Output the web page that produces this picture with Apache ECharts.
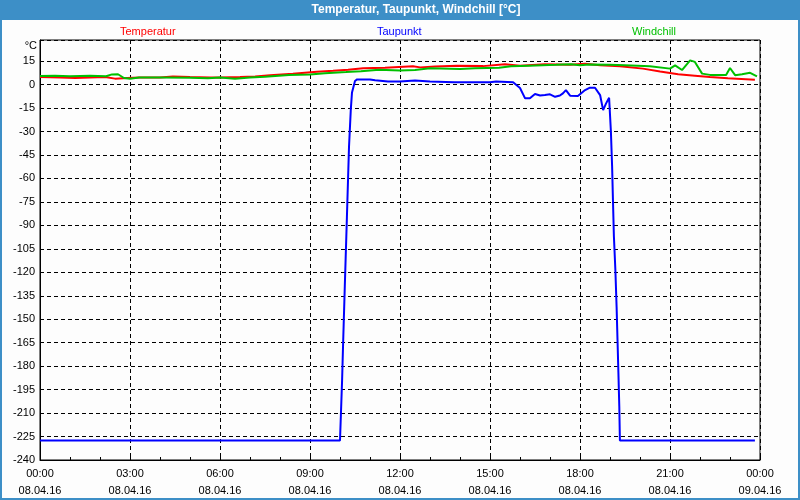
<!DOCTYPE html>
<html>
<head>
<meta charset="utf-8">
<script src="https://cdn.jsdelivr.net/npm/echarts@6/dist/echarts.min.js"></script>
<style>
html,body{margin:0;padding:0;background:#fff;}
#chart{width:800px;height:500px;}
</style>
</head>
<body>
<div id="chart"></div>
<script>
// ---- data ----
const titleText = 'Temperatur, Taupunkt, Windchill [°C]';
const unitLabel = '°C';
const seriesNames = ['Temperatur', 'Taupunkt', 'Windchill'];
const timeLabels = ['00:00','03:00','06:00','09:00','12:00','15:00','18:00','21:00','00:00'];
const dateLabels = ['08.04.16','08.04.16','08.04.16','08.04.16','08.04.16','08.04.16','08.04.16','08.04.16','09.04.16'];

// hours since 08.04.16 00:00
const tempHours  = [0, 0.67, 1.17, 1.67, 2.17, 2.5, 2.9, 3.33, 4, 4.43, 5, 5.67, 6, 6.67, 7.17, 7.67, 8.43, 9.23, 9.77, 10.27, 10.77, 11.5, 12.43, 12.67, 13.17, 13.9, 14.77, 15.5, 16, 16.83, 17.67, 18.17, 18.67, 19.33, 20.1, 20.67, 21.27, 21.83, 22.33, 22.93, 23.83];
const tempValues = [4.8, 4.6, 4.2, 4.6, 4.8, 3.8, 4.2, 4.6, 4.6, 5.2, 4.8, 4.6, 4.6, 4.8, 5.2, 6.0, 7.0, 8.2, 8.8, 9.5, 10.4, 10.8, 11.7, 11.0, 11.5, 12.1, 11.8, 13.0, 12.1, 13.0, 12.6, 13.3, 12.3, 11.7, 10.2, 8.4, 6.6, 5.7, 4.8, 4.0, 3.1];

const dewHours  = [0, 10.0, 10.03, 10.07, 10.1, 10.16, 10.23, 10.3, 10.36, 10.4, 10.5, 10.57, 11.0, 11.17, 11.6, 12.0, 12.5, 13.0, 13.8, 15.0, 15.2, 15.77, 16.0, 16.17, 16.33, 16.5, 16.67, 16.83, 17.0, 17.17, 17.33, 17.43, 17.53, 17.67, 17.93, 18.17, 18.33, 18.5, 18.67, 18.77, 18.87, 18.97, 19.0, 19.03, 19.07, 19.1, 19.13, 19.18, 19.22, 19.25, 19.28, 19.31, 19.33, 23.83];
const dewValues = [-227.5, -227.5, -227.3, -189, -168, -129, -85, -40, -16, -5, 2.3, 3.3, 3.3, 2.7, 2.0, 2.0, 2.6, 2.0, 1.5, 1.5, 2.0, 1.5, -2.2, -8.8, -8.8, -6.0, -7.0, -6.7, -6.2, -7.8, -7.0, -5.6, -3.5, -7.1, -7.3, -3.5, -2.0, -2.0, -6.7, -16.3, -12, -8.4, -9.5, -30, -52, -75, -97, -119, -142, -163, -184, -206, -227.5, -227.5];

const chillHours  = [0, 0.5, 1, 1.67, 2.2, 2.4, 2.6, 2.8, 3.0, 3.3, 4, 5, 5.6, 6, 6.5, 7, 7.5, 8.3, 9, 9.5, 10.2, 10.7, 11.3, 12, 12.5, 13, 14, 14.5, 15.3, 15.7, 16.3, 17.2, 17.7, 18, 18.3, 19, 19.5, 20.33, 21.0, 21.17, 21.4, 21.67, 21.83, 22.07, 22.33, 22.87, 23.0, 23.17, 23.4, 23.67, 23.9];
const chillValues = [5.5, 5.6, 5.3, 5.6, 5.3, 6.5, 6.6, 4.2, 3.7, 4.5, 4.6, 4.4, 4.0, 4.5, 3.8, 4.6, 5.0, 6.2, 6.4, 7.3, 8.0, 8.6, 9.5, 9.0, 9.3, 10.4, 10.0, 10.5, 10.8, 11.7, 12.1, 12.6, 13.0, 12.3, 12.8, 12.6, 12.3, 11.7, 10.2, 12.3, 9.3, 15.5, 14.5, 7.0, 6.2, 6.2, 10.6, 6.0, 6.6, 7.5, 5.3];

const colors = ['#ff0000', '#0000ff', '#00c000'];

function pairs(h, v) { return h.map((x, i) => [x, v[i]]); }

const chart = echarts.init(document.getElementById('chart'));
const FONT = 'Liberation Sans, Arial, sans-serif';

function legendAt(idx, left) {
  return {
    left: left, top: 25, padding: 0, icon: 'none', itemWidth: 0, itemGap: 0,
    selectedMode: false,
    data: [{ name: seriesNames[idx], textStyle: { color: colors[idx] } }],
    textStyle: { fontSize: 11, fontFamily: FONT, padding: 0 }
  };
}

chart.setOption({
  animation: false,
  backgroundColor: '#fdfdfd',
  textStyle: { fontFamily: FONT },
  graphic: [
    { type: 'rect', shape: { x: 0, y: 0, width: 800, height: 20 }, style: { fill: '#3d8fc7' }, z: 0 },
    { type: 'rect', shape: { x: 1, y: 1, width: 798, height: 498 }, style: { fill: 'none', stroke: '#3d8fc7', lineWidth: 2 }, z: 0 },
    { type: 'text', x: 416, y: 10, style: { text: titleText, fill: '#ffffff', font: 'bold 12px ' + FONT, textAlign: 'center', textVerticalAlign: 'middle' }, z: 5 },
    { type: 'text', x: 37, y: 46, style: { text: unitLabel, fill: '#000', font: '11px ' + FONT, textAlign: 'right', textVerticalAlign: 'middle' }, z: 5 }
  ],
  legend: [legendAt(0, 115), legendAt(1, 372), legendAt(2, 627)],
  grid: { left: 40, right: 40, top: 40, bottom: 40, show: true, borderColor: '#000', borderWidth: 1, backgroundColor: 'transparent' },
  xAxis: {
    type: 'value', min: 0, max: 24, interval: 3,
    axisLine: { onZero: false, lineStyle: { color: '#000', width: 1 } },
    axisTick: { show: true, inside: true, length: 3, lineStyle: { color: '#000' } },
    minorTick: { show: true, splitNumber: 3, length: 3, lineStyle: { color: '#000' } },
    splitLine: { show: true, lineStyle: { color: '#000', type: [4, 3], width: 1 } },
    axisLabel: {
      color: '#000', fontSize: 11, lineHeight: 17, margin: 5, fontFamily: FONT,
      formatter: function (v) { const i = Math.round(v / 3); return timeLabels[i] + '\n' + dateLabels[i]; }
    }
  },
  yAxis: {
    type: 'value', min: -240, max: 28.5, interval: 15,
    axisLine: { show: true, onZero: false, lineStyle: { color: '#000', width: 1 } },
    axisTick: { show: false },
    splitLine: { show: true, lineStyle: { color: '#000', type: [4, 3], width: 1 } },
    axisLabel: {
      color: '#000', fontSize: 11, margin: 5, fontFamily: FONT,
      formatter: function (v) { return (Math.abs(v % 15) < 1e-6) ? String(v) : ''; }
    }
  },
  series: [
    { name: seriesNames[0], type: 'line', data: pairs(tempHours, tempValues), showSymbol: false, lineStyle: { color: colors[0], width: 2 }, itemStyle: { color: colors[0] } },
    { name: seriesNames[1], type: 'line', data: pairs(dewHours, dewValues), showSymbol: false, lineStyle: { color: colors[1], width: 2 }, itemStyle: { color: colors[1] } },
    { name: seriesNames[2], type: 'line', data: pairs(chillHours, chillValues), showSymbol: false, lineStyle: { color: colors[2], width: 2 }, itemStyle: { color: colors[2] } }
  ]
});
</script>
</body>
</html>
